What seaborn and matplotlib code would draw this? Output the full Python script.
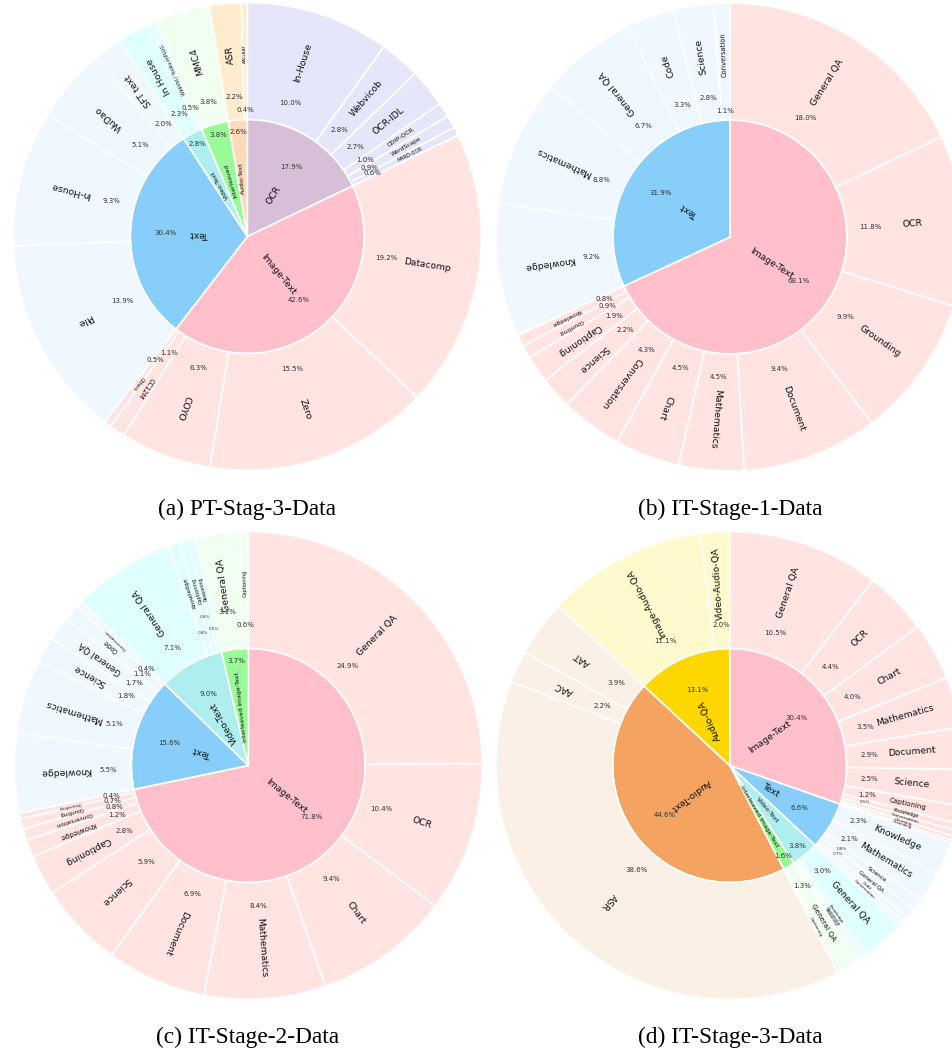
import numpy as np
import matplotlib
matplotlib.use('Agg')
import matplotlib.pyplot as plt
import seaborn as sns

sns.set_theme(style='white')
plt.rcParams['font.family'] = ['DejaVu Sans']

###############################################################################
# Data (percent of all samples, clockwise from 12 o'clock)
###############################################################################

# (a) PT-Stag-3-Data
a_groups = ['OCR', 'Image-Text', 'Text', 'Video-Text', 'Interleaved', 'Audio-Text']
a_group_pct = [17.9, 42.6, 30.4, 2.8, 3.8, 2.6]
a_sub_names = [['In-House', 'Webvicob', 'OCR-IDL', 'CDIP-OCR', 'WordScape', 'M4RD-OCR'],
               ['Datacomp', 'Zero', 'COYO', 'CC12M', 'Others'],
               ['Pile', 'In-House', 'WuDao', 'SFT text'],
               ['In House', 'WebVid / Youku-mPLUG'],
               ['MMC4'],
               ['ASR', 'AAC/AAT']]
a_sub_pct = [[10.0, 2.8, 2.7, 1.0, 0.9, 0.6],
             [19.2, 15.5, 6.3, 1.1, 0.5],
             [13.9, 9.3, 5.1, 2.0],
             [2.3, 0.5],
             [3.8],
             [2.2, 0.4]]

# (b) IT-Stage-1-Data
b_groups = ['Image-Text', 'Text']
b_group_pct = [68.1, 31.9]
b_sub_names = [['General QA', 'OCR', 'Grounding', 'Document', 'Mathematics', 'Chart',
                'Conversation', 'Science', 'Captioning', 'Counting', 'Knowledge'],
               ['Knowledge', 'Mathematics', 'General QA', 'Code', 'Science', 'Conversation']]
b_sub_pct = [[18.0, 11.8, 9.9, 9.4, 4.5, 4.5, 4.3, 2.2, 1.9, 0.9, 0.8],
             [9.2, 8.8, 6.7, 3.3, 2.8, 1.1]]

# (c) IT-Stage-2-Data
c_groups = ['Image-Text', 'Text', 'Video-Text', 'Interleaved Image-Text']
c_group_pct = [71.8, 15.6, 9.0, 3.7]
c_sub_names = [['General QA', 'OCR', 'Chart', 'Mathematics', 'Document', 'Science',
                'Captioning', 'Knowledge', 'Conversation', 'Counting', 'Grounding'],
               ['Knowledge', 'Mathematics', 'Science', 'General QA', 'Code', 'Conversation'],
               ['General QA', 'Knowledge', 'Captioning', 'Reasoning'],
               ['General QA', 'Captioning']]
c_sub_pct = [[24.9, 10.4, 9.4, 8.4, 6.9, 5.9, 2.8, 1.2, 0.8, 0.7, 0.4],
             [5.5, 5.1, 1.8, 1.7, 1.1, 0.4],
             [7.1, 0.8, 0.6, 0.5],
             [3.1, 0.6]]

# (d) IT-Stage-3-Data
d_groups = ['Image-Text', 'Text', 'Video-Text', 'Interleaved Image-Text', 'Audio-Text', 'Audio-QA']
d_group_pct = [30.4, 6.6, 3.8, 1.6, 44.6, 13.1]
d_sub_names = [['General QA', 'OCR', 'Chart', 'Mathematics', 'Document', 'Science',
                'Captioning', 'Knowledge', 'Conversation', 'Counting', 'Grounding'],
               ['Knowledge', 'Mathematics', 'Science', 'General QA', 'Code', 'Conversation'],
               ['General QA', 'Knowledge', 'Captioning', 'Reasoning'],
               ['General QA', 'Captioning'],
               ['ASR', 'AAC', 'AAT'],
               ['Image-Audio-QA', 'Video-Audio-QA']]
d_sub_pct = [[10.5, 4.4, 4.0, 3.5, 2.9, 2.5, 1.2, 0.5, 0.4, 0.3, 0.2],
             [2.3, 2.1, 0.8, 0.7, 0.4, 0.3],
             [3.0, 0.3, 0.3, 0.2],
             [1.3, 0.3],
             [38.6, 2.2, 3.9],
             [11.1, 2.0]]

titles = ['(a) PT-Stag-3-Data', '(b) IT-Stage-1-Data',
          '(c) IT-Stage-2-Data', '(d) IT-Stage-3-Data']

###############################################################################
# Styles
###############################################################################

# inner colour, outer colour
palette = {'OCR': ('thistle', 'lavender'),
           'Image-Text': ('pink', 'mistyrose'),
           'Text': ('lightskyblue', 'aliceblue'),
           'Video-Text': ('paleturquoise', 'lightcyan'),
           'Interleaved': ('palegreen', 'honeydew'),
           'Interleaved Image-Text': ('palegreen', 'honeydew'),
           'Audio-QA': ('gold', 'lemonchiffon')}
audio_a = ('peachpuff', 'blanchedalmond')
audio_d = ('sandybrown', 'linen')

W, H = 953, 1057
R_PX = 234
L = 1.05
S = 2 * R_PX * L
PCT_FS = 5.0


def draw_panel(fig, cx, cy, groups, group_pct, sub_names, sub_pct, audio_cols,
               pct_min=0.4, tiny_pct=0.0):
    ax = fig.add_axes([(cx - S / 2) / W, (H - cy - S / 2) / H, S / W, S / H])

    cols = [audio_cols if g == 'Audio-Text' else palette[g] for g in groups]
    inner_cols = [c[0] for c in cols]

    # outer ring: sub shares rescaled to fill their parent wedge exactly
    flat_vals, flat_names, flat_raw, flat_cols = [], [], [], []
    for gp, names, vals, c in zip(group_pct, sub_names, sub_pct, cols):
        tot = sum(vals)
        for n, v in zip(names, vals):
            flat_vals.append(v * gp / tot)
            flat_names.append(n)
            flat_raw.append(v)
            flat_cols.append(c[1])

    wp = dict(edgecolor='white', linewidth=1.2)
    inner, _ = ax.pie(group_pct, radius=0.5, startangle=90, counterclock=False,
                      colors=inner_cols, wedgeprops=wp)
    outer, _ = ax.pie(flat_vals, radius=1.0, startangle=90, counterclock=False,
                      colors=flat_cols, wedgeprops=dict(width=0.5, **wp))

    # outer labels
    last = None
    n_out = len(outer)
    for i, (w, name, p) in enumerate(zip(outer, flat_names, flat_raw)):
        mid = (w.theta1 + w.theta2) / 2
        t = np.deg2rad(mid)
        fs = float(np.clip(2.2 + 2.4 * p, 2.5, 6.7))
        ax.text(0.78 * np.cos(t), 0.78 * np.sin(t), name, rotation=mid,
                rotation_mode='anchor', ha='center', va='center', fontsize=fs,
                color='#111111')
        if p < pct_min:
            continue
        # stacked small wedges near the top / bottom get a tiny, staggered label
        near_vert = abs(np.cos(t)) < 0.45
        prev_small = i > 0 and flat_raw[i - 1] < 1
        next_small = i < n_out - 1 and flat_raw[i + 1] < 1
        tiny = p < tiny_pct or (p < 1 and near_vert and (prev_small or next_small))
        r = 0.6
        x, y = r * np.cos(t), r * np.sin(t)
        if (last is not None and abs(np.cos(t)) < 0.6
                and abs(x - last[0]) < 0.075 and abs(y - last[1]) < 0.022):
            r = 0.54 if flat_raw[i - 1] >= 2 else 0.66
            x, y = r * np.cos(t), r * np.sin(t)
        last = (x, y)
        ax.text(x, y, f'{p:.1f}%', ha='center', va='center', color='#333333',
                fontsize=3.0 if tiny else PCT_FS)

    # inner labels
    for w, name, p in zip(inner, groups, group_pct):
        mid = (w.theta1 + w.theta2) / 2
        t = np.deg2rad(mid)
        big = p >= 5
        rn = 0.21 if big else 0.25
        rp = 0.35 if big else 0.45
        ax.text(rn * np.cos(t), rn * np.sin(t), name, rotation=mid,
                rotation_mode='anchor', ha='center', va='center',
                fontsize=6.6 if big else 4.4, color='#111111')
        ax.text(rp * np.cos(t), rp * np.sin(t), f'{p:.1f}%',
                ha='center', va='center', color='#333333', fontsize=PCT_FS)

    ax.set_xlim(-L, L)
    ax.set_ylim(-L, L)
    ax.axis('off')
    return ax


fig = plt.figure(figsize=(W / 100, H / 100), dpi=100)

draw_panel(fig, 247.3, 236.5, a_groups, a_group_pct, a_sub_names, a_sub_pct, audio_a)
draw_panel(fig, 730.0, 237.0, b_groups, b_group_pct, b_sub_names, b_sub_pct, audio_a)
draw_panel(fig, 248.3, 765.5, c_groups, c_group_pct, c_sub_names, c_sub_pct, audio_a)
draw_panel(fig, 729.7, 765.5, d_groups, d_group_pct, d_sub_names, d_sub_pct, audio_d,
           pct_min=0.5, tiny_pct=1.0)

title_pos = [(247.5, 509), (730, 509), (248, 1037), (730, 1037)]
for (tx, ty), title in zip(title_pos, titles):
    fig.text(tx / W, 1 - ty / H, title, ha='center', va='center',
             fontsize=16.8, family=['Liberation Serif', 'DejaVu Serif'], color='black')

fig.savefig('out.png', dpi=100, facecolor='white')
